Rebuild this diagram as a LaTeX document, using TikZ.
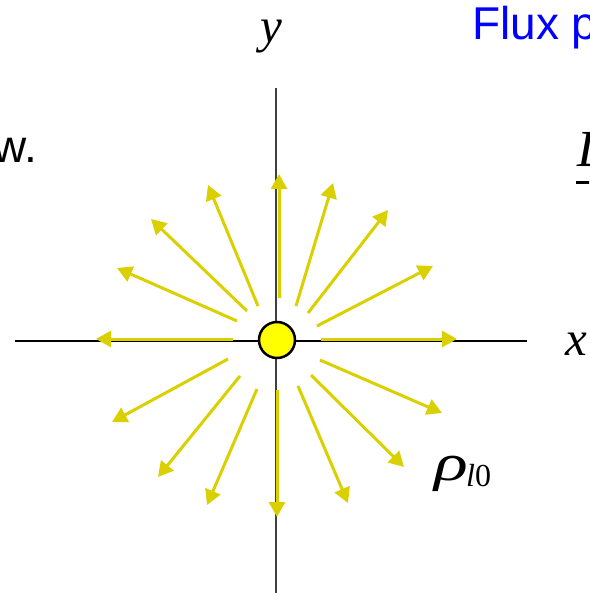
\documentclass[tikz,border=0pt]{standalone}
\usepackage{fontspec}
\setmainfont{Liberation Serif}
\newfontfamily\labelsans{Liberation Sans}
\usetikzlibrary{arrows.meta}
\definecolor{fluxyellow}{RGB}{218,208,0}
\definecolor{chargeyellow}{RGB}{255,255,0}
\definecolor{titleblue}{RGB}{0,0,255}

\begin{document}
\begin{tikzpicture}[
  x=1pt, y=-1pt,
  axis/.style={line width=2.5pt},
  yaxis/.style={line width=1.4pt, black!75},
  flux/.style={fluxyellow, line width=3pt, -{Triangle[length=15pt,width=16pt]}},
  charge/.style={draw, circle, fill=chargeyellow, line width=2.5pt, minimum size=36pt, inner sep=0pt},
  lbl/.style={inner sep=0pt, font=\fontsize{49}{56}\selectfont\itshape},
  txt/.style={inner sep=0pt, font=\labelsans\fontsize{46}{52}\selectfont}
]
  \useasboundingbox (0,0) rectangle (589,593);
  \clip (0,0) rectangle (589,593);

  % Axes
  \coordinate (xl) at (15,341);
  \coordinate (xr) at (527,341);
  \coordinate (yt) at (276,88);
  \coordinate (yb) at (276,593);
  \draw[axis] (xl) -- (xr);
  \draw[yaxis] (yt) -- (yb);

  % Flux lines leaving the line charge
  \draw[flux] (279,298) -- (279,174);
  \draw[flux] (258,306) -- (208,185);
  \draw[flux] (247,311) -- (151,219);
  \draw[flux] (237,321) -- (117,268);
  \draw[flux] (233,339) -- (96,339);
  \draw[flux] (228,359) -- (112,422);
  \draw[flux] (240,376) -- (158,477);
  \draw[flux] (257,389) -- (207,505);
  \draw[flux] (277,390) -- (277,517);
  \draw[flux] (298,386) -- (348,503);
  \draw[flux] (311,375) -- (404,467);
  \draw[flux] (320,360) -- (442,413);
  \draw[flux] (321,339) -- (457,339);
  \draw[flux] (317,326) -- (433,266);
  \draw[flux] (308,313) -- (388,210);
  \draw[flux] (296,306) -- (333,183);

  % Line charge
  \node[charge] (q) at (277,340) {};

  % Labels
  \node[lbl, anchor=base] (ylbl) at (271,43) {y};
  \node[lbl, anchor=base west] (xlbl) at (565,355) {x};
  \node[lbl, anchor=base west, font=\fontsize{52}{60}\selectfont\itshape] (rho) at (434,480) {\scalebox{1.35}[1]{ρ}};
  \node[inner sep=0pt, anchor=base west, font=\fontsize{32}{36}\selectfont] (rhosub) at (466,486) {\textit{l}0};
  \node[lbl, anchor=base west, font=\fontsize{52}{60}\selectfont\itshape] (dvec) at (577,167) {\rlap{\kern-1pt\rule[-17pt]{24pt}{2.5pt}}D};
  \node[txt, titleblue, anchor=base west] (title) at (472,40) {Flux p};
  \node[txt, anchor=base east] (note) at (37,163) {w.};
\end{tikzpicture}
\end{document}
